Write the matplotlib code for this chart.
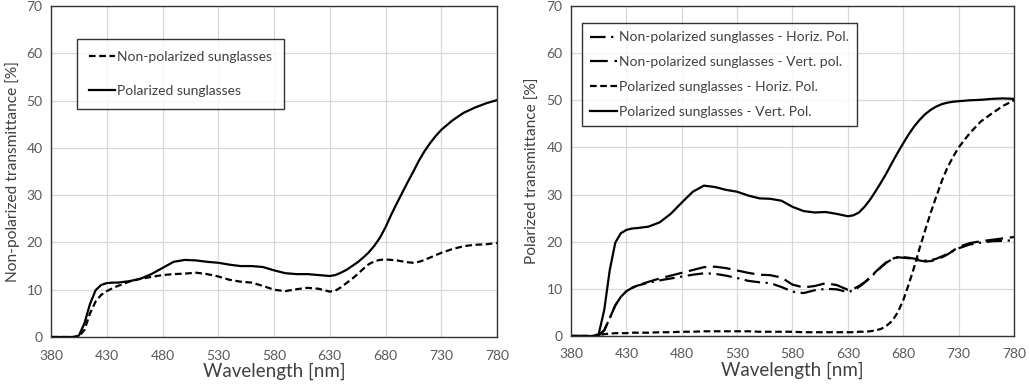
import matplotlib
matplotlib.use("Agg")
import matplotlib.pyplot as plt

plt.rcParams['font.family'] = ['Lato', 'DejaVu Sans']

# Wavelength sampling (nm)
wl = [380, 400, 405, 410, 415, 420, 425, 430, 435, 440,
      450, 460, 470, 480, 490, 500, 510, 520, 530, 540, 550, 560, 570, 580, 590, 600, 610, 620, 630,
      635, 640, 645, 650, 655, 660, 665, 670, 675, 680, 685, 690, 695, 700, 705, 710, 715, 720, 725, 730,
      740, 750, 760, 770, 780]

# ---- Left chart: non-polarized transmittance [%] ----
nonpol = [0, 0, 0.1, 1.5, 5.0, 7.5, 8.9, 9.7, 10.3, 10.8,
          11.7, 12.3, 12.7, 13.1, 13.3, 13.4, 13.6, 13.3, 12.8, 12.1, 11.7, 11.5, 10.8, 10.0, 9.7, 10.1, 10.4, 10.2, 9.6,
          9.8, 10.5, 11.4, 12.3, 13.3, 14.4, 15.4, 16.0, 16.3, 16.4, 16.3, 16.2, 16.0, 15.8, 15.7, 15.9, 16.3, 16.8, 17.3, 17.8,
          18.6, 19.2, 19.5, 19.6, 19.9]

pol = [0, 0, 0.3, 2.9, 7.0, 9.9, 11.0, 11.4, 11.5, 11.5,
       11.8, 12.3, 13.3, 14.6, 15.9, 16.3, 16.2, 15.9, 15.7, 15.3, 15.0, 15.0, 14.8, 14.1, 13.5, 13.3, 13.3, 13.1, 12.9,
       13.1, 13.6, 14.2, 15.0, 15.8, 16.8, 17.9, 19.3, 21.0, 23.2, 25.8, 28.2, 30.5, 32.8, 35.0, 37.3, 39.3, 41.0, 42.5, 43.8,
       45.8, 47.4, 48.5, 49.4, 50.1]

# ---- Right chart: polarized transmittance [%] ----
np_horiz = [0, 0, 0.1, 1.2, 3.8, 6.5, 8.3, 9.5, 10.2, 10.7,
            11.3, 11.8, 12.2, 12.6, 13.0, 13.3, 13.2, 12.8, 12.3, 11.7, 11.4, 11.2, 10.4, 9.4, 9.1, 9.7, 10.0, 9.9, 9.3,
            9.7, 10.4, 11.3, 12.3, 13.5, 14.6, 15.6, 16.3, 16.7, 16.7, 16.6, 16.4, 16.2, 16.0, 16.1, 16.4, 16.9, 17.4, 18.0, 18.6,
            19.4, 19.8, 20.1, 20.2, 20.3]

np_vert = [0, 0, 0.1, 1.2, 3.8, 6.5, 8.3, 9.5, 10.2, 10.7,
           11.5, 12.2, 12.8, 13.4, 14.0, 14.6, 14.7, 14.4, 13.9, 13.4, 13.0, 12.9, 12.4, 10.9, 10.3, 10.6, 11.2, 10.8, 9.8,
           10.0, 10.6, 11.4, 12.4, 13.6, 14.7, 15.7, 16.4, 16.7, 16.6, 16.5, 16.3, 16.0, 15.8, 15.9, 16.2, 16.7, 17.3, 18.1, 18.9,
           19.7, 20.1, 20.4, 20.7, 21.0]

pol_horiz = [0, 0, 0.1, 0.4, 0.5, 0.6, 0.6, 0.6, 0.7, 0.7,
             0.7, 0.8, 0.8, 0.9, 0.9, 1.0, 1.0, 1.0, 1.0, 1.0, 0.9, 0.9, 0.9, 0.9, 0.8, 0.8, 0.8, 0.8, 0.8,
             0.8, 0.9, 0.9, 1.0, 1.2, 1.5, 2.2, 3.2, 5.0, 7.6, 11.0, 14.7, 18.8, 22.6, 26.3, 29.7, 33.0, 35.8, 38.0, 40.0,
             43.0, 45.5, 47.2, 48.8, 50.0]

pol_vert = [0, 0, 0.4, 5.5, 14.0, 19.8, 21.8, 22.5, 22.8, 22.9,
            23.2, 24.1, 25.9, 28.3, 30.6, 31.9, 31.6, 31.0, 30.6, 29.8, 29.2, 29.1, 28.7, 27.4, 26.5, 26.2, 26.3, 25.9, 25.4,
            25.6, 26.2, 27.4, 28.9, 30.7, 32.6, 34.6, 36.8, 38.9, 40.9, 42.8, 44.5, 45.9, 47.1, 48.0, 48.7, 49.2, 49.5, 49.7, 49.8,
            50.0, 50.1, 50.3, 50.4, 50.3]

xticks = [380, 430, 480, 530, 580, 630, 680, 730, 780]
yticks = [0, 10, 20, 30, 40, 50, 60, 70]

fig = plt.figure(figsize=(10.29, 3.88), dpi=100)
W, H = 1029, 388
ax1 = fig.add_axes([51 / W, 1 - 337 / H, (497 - 51) / W, (337 - 6) / H])
ax2 = fig.add_axes([571 / W, 1 - 336 / H, (1014 - 571) / W, (336 - 6) / H])

def style(ax, ylabel):
    ax.set_xlim(380, 780)
    ax.set_ylim(0, 70)
    ax.set_xticks(xticks)
    ax.set_yticks(yticks)
    ax.grid(True, color='#d9d9d9', linewidth=0.9)
    ax.set_axisbelow(True)
    ax.tick_params(axis='x', length=0, labelsize=10, colors='#595959', pad=9)
    ax.tick_params(axis='y', length=0, labelsize=10, colors='#595959', pad=6)
    for s in ax.spines.values():
        s.set_color('#333333')
        s.set_linewidth(1.0)
    ax.set_xlabel('Wavelength [nm]', fontsize=13.5, color='#404040', labelpad=1)
    ax.set_ylabel(ylabel, fontsize=11.2, color='#404040', labelpad=5)

lw = 1.6
kw = dict(color='black', lw=lw, solid_joinstyle='round', dash_joinstyle='round')
ax1.plot(wl, nonpol, ls=(0, (3, 1.6)), label='Non-polarized sunglasses', **kw)
ax1.plot(wl, pol, ls='-', label='Polarized sunglasses', **kw)
style(ax1, 'Non-polarized transmittance [%]')
leg1 = ax1.legend(loc='upper left', bbox_to_anchor=(0.058, 0.90), fontsize=10, frameon=True,
                  fancybox=False, edgecolor='black', labelspacing=1.6, handlelength=1.9,
                  handletextpad=0.15, borderpad=0.85, borderaxespad=0)
leg1.get_frame().set_linewidth(1.0)
for t in leg1.get_texts():
    t.set_color('#404040')

ax2.plot(wl, np_horiz, ls=(0, (7, 2.5, 1, 2.5)), label='Non-polarized sunglasses - Horiz. Pol.', **kw)
ax2.plot(wl, np_vert, ls=(0, (8, 3)), label='Non-polarized sunglasses - Vert. pol.', **kw)
ax2.plot(wl, pol_horiz, ls=(0, (3, 1.6)), label='Polarized sunglasses - Horiz. Pol.', **kw)
ax2.plot(wl, pol_vert, ls='-', label='Polarized sunglasses - Vert. Pol.', **kw)
style(ax2, 'Polarized transmittance [%]')
leg2 = ax2.legend(loc='upper left', bbox_to_anchor=(0.025, 0.948), fontsize=10, frameon=True,
                  fancybox=False, edgecolor='black', labelspacing=0.92, handlelength=1.9,
                  handletextpad=0.15, borderpad=0.6, borderaxespad=0)
leg2.get_frame().set_linewidth(1.0)
for t in leg2.get_texts():
    t.set_color('#404040')

fig.savefig('out.png', dpi=100)
